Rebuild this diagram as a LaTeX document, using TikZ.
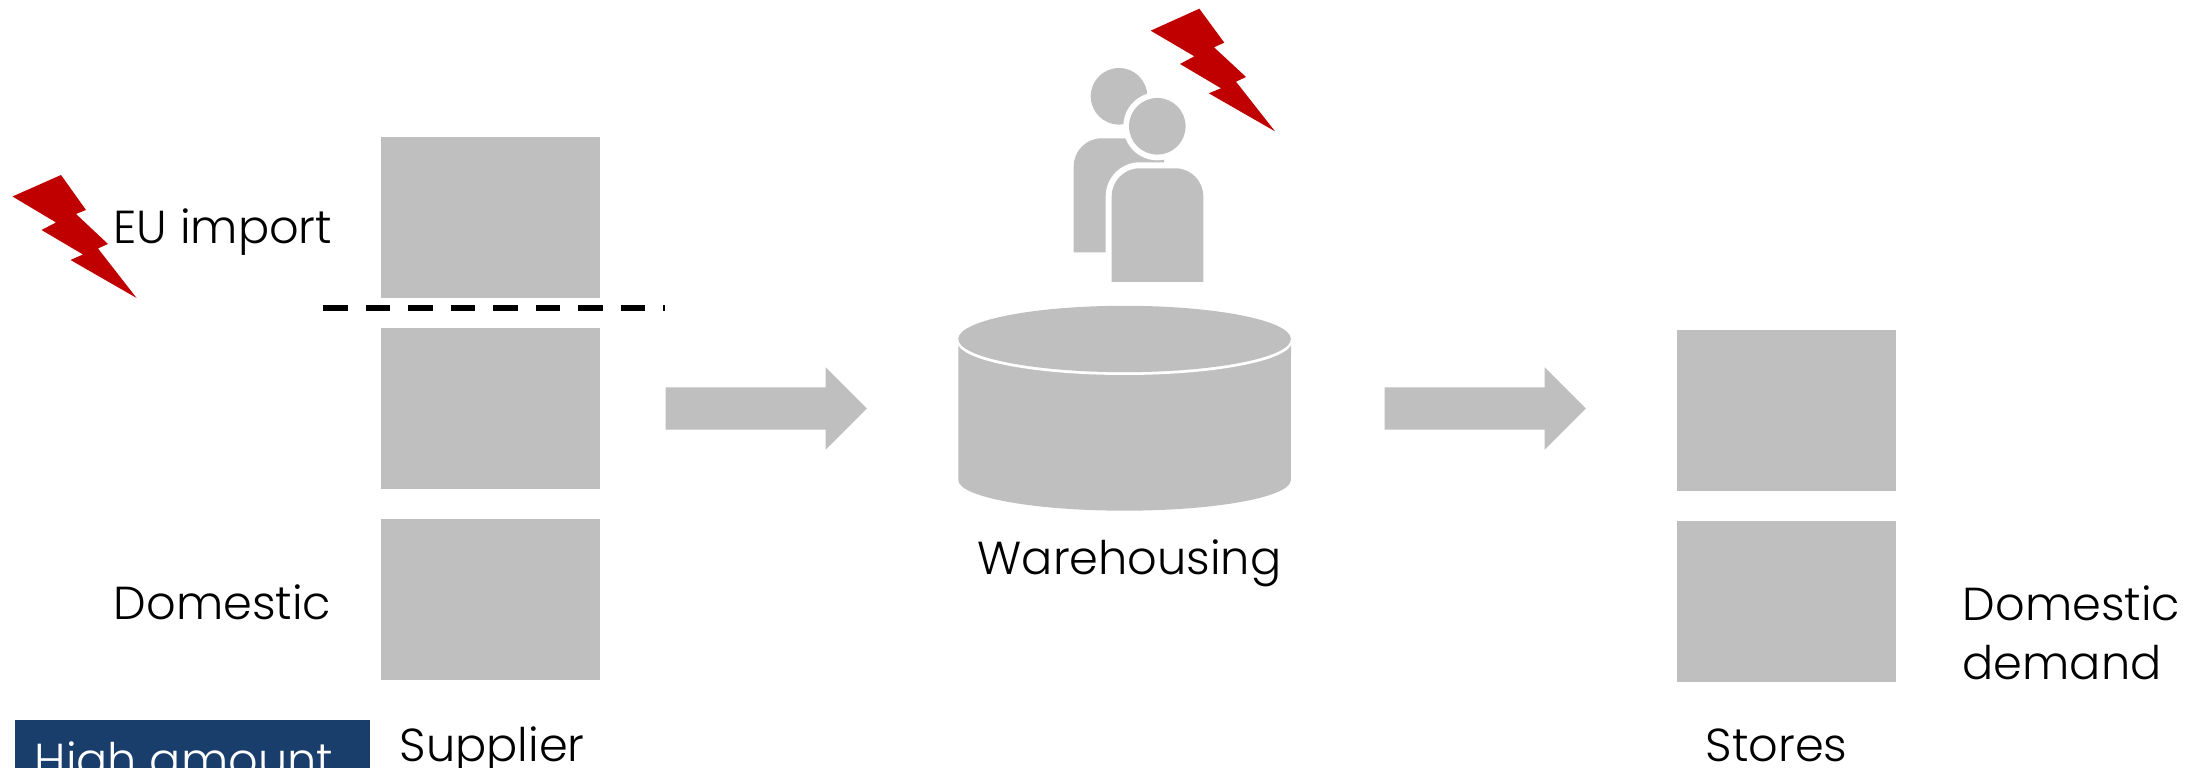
\documentclass[tikz,border=0pt]{standalone}
\usepackage{fontspec}
\usetikzlibrary{shapes.arrows}
\setmainfont[UprightFont=* Light]{Poppins}
\definecolor{boxgrey}{HTML}{BFBFBF}
\definecolor{boltred}{HTML}{C00000}
\definecolor{tagblue}{HTML}{1A3E6C}
\tikzset{
	greybox/.style={fill=boxgrey, minimum width=2.19cm, minimum height=1.61cm, inner sep=0pt},
	flowarrow/.style={single arrow, fill=boxgrey, anchor=tail, inner xsep=0pt, inner ysep=0.205cm, minimum height=2.01cm, single arrow head extend=0.2cm, single arrow tip angle=90},
	label/.style={anchor=base west, inner sep=0pt, font=\fontsize{13.15}{16}\selectfont},
	bolt/.style={fill=boltred}
}
\begin{document}
\begin{tikzpicture}[x=0.01cm, y=-0.01cm, line join=miter]
	\useasboundingbox (0,0) rectangle (2193,768);
	\clip (0,0) rectangle (2193,768);
	% supplier and store columns
	\foreach \name/\y in {importbox/217.5,midbox/408.5,domesticbox/599.5}\node[greybox] (\name) at (490.5,\y) {};
	\foreach \name/\y in {storetop/410.5,storebottom/601.5}\node[greybox] (\name) at (1786.5,\y) {};
	\coordinate (cutleft) at (323,308.5);
	\coordinate (cutright) at (665,308.5);
	\draw[line width=0.06cm, dash pattern=on 0.245cm off 0.18cm] (cutleft)--(cutright);
	\node[flowarrow] (flowone) at (665,408.5) {};
	\node[flowarrow] (flowtwo) at (1384,408.5) {};
	% warehouse
	\fill[boxgrey] (958.3,339) -- (958.3,480) arc[start angle=180, end angle=360, x radius=166.3, y radius=-30.7] -- (1291,339) -- cycle;
	\fill[white] (1124.6,341.5) ellipse [x radius=167.5, y radius=33.5];
	\fill[boxgrey] (1124.6,339) ellipse [x radius=166.3, y radius=33.2];
	% people
	\fill[boxgrey] (1119,96.3) circle (28.3);
	\fill[boxgrey] (1073.7,252.3) [rounded corners=0.28cm] -- (1073.7,138.3) -- (1130,138.3) [sharp corners] -- (1164,138.3) -- (1164,252.3) -- cycle;
	\fill[white] (1157.3,126.3) circle (34);
	\fill[white] (1105.7,290) [rounded corners=0.34cm] -- (1105.7,162.3) -- (1209.3,162.3) [sharp corners] -- (1209.3,290) -- cycle;
	\fill[boxgrey] (1157.3,126.3) circle (28.3);
	\fill[boxgrey] (1111.7,282) [rounded corners=0.28cm] -- (1111.7,168.3) -- (1203.3,168.3) [sharp corners] -- (1203.3,282) -- cycle;
	% bolts
	\fill[bolt] (12.5,196.5)--(61,175)--(86,210)--(76,214)--(108,244)--(98,248.5)--(136.6,298)--(70.5,260)--(83,254.5)--(41.5,230)--(56,222.5)--cycle;
	\fill[bolt] (1150.7,30.7)--(1199.3,8.7)--(1224.3,42.7)--(1214,47.3)--(1246,77)--(1236,81.7)--(1275,131.3)--(1208.7,93.3)--(1221,88.3)--(1180,64)--(1194.3,56.3)--cycle;
	% texts
	\node[label] (euimport) at (113,244) {EU import};
	\node[label] (domestic) at (113,620) {Domestic};
	\node[label] (warehousing) at (977,575) {Warehousing};
	\node[label] (domesticdemand) at (1962,621) {Domestic};
	\node[label] (demand) at (1962,680) {demand};
	\node[label] (supplier) at (399,762) {Supplier};
	\node[label] (stores) at (1705,762) {Stores};
	\fill[tagblue] (15,720) rectangle (370,768);
	\node[label, text=white] (highamount) at (34,777) {High amount};
\end{tikzpicture}
\end{document}
